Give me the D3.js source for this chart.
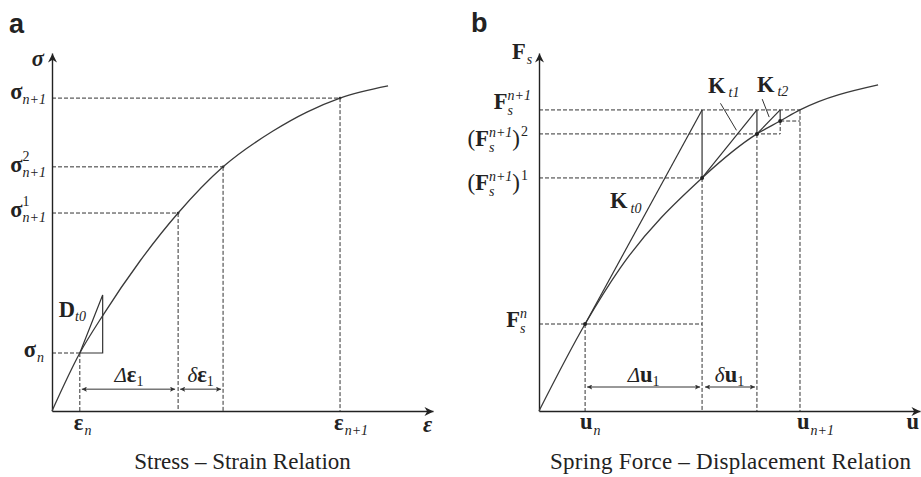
<!DOCTYPE html>
<html>
<head>
<meta charset="utf-8">
<script src="https://cdn.jsdelivr.net/npm/d3@7"></script>
<style>
  html, body { margin: 0; padding: 0; background: #fff; }
  svg { display: block; }
  text { fill: #222; }
  .b   { font: bold 22.5px 'Liberation Serif', 'Times New Roman', serif; }
  .bi  { font: bold italic 22.5px 'Liberation Serif', 'Times New Roman', serif; }
  .gi  { font: italic 21px 'Liberation Serif', 'Times New Roman', serif; }
  .p   { font: 23px 'Liberation Serif', 'Times New Roman', serif; }
  .i13 { font: italic 14px 'Liberation Serif', 'Times New Roman', serif; }
  .r13 { font: 14px 'Liberation Serif', 'Times New Roman', serif; }
  .title { font: 23px 'Liberation Serif', 'Times New Roman', serif; }
  .panel { font: bold 27px 'Liberation Sans', Arial, sans-serif; }
</style>
</head>
<body>
<svg id="chart" width="921" height="477"></svg>
<script>
// ---------- Panel a: stress–strain curve (normalised 0–100 units) ----------
const strainA = [0, 7.3, 13.4, 23.1, 33.1, 44.9, 58.0, 66.9, 75.6, 88.2];
const stressA = [0, 16.2, 26.8, 41.9, 55.3, 68.2, 78.2, 83.5, 87.4, 90.8];
// States on the curve: n, iteration 1, iteration 2, n+1
const stateStrainA = [7.3, 33.1, 44.9, 75.6];
const stateStressA = [16.2, 55.3, 68.2, 87.4];
// Initial tangent triangle D_t0 (run, rise)
const tangentA = [6.0, 16.2];
// Height of the increment dimension arrows
const dimLevelA = 6.1;

// ---------- Panel b: spring force–displacement curve ----------
const dispB  = [0, 12.1, 21.3, 42.8, 57.2, 63.3, 68.5, 89.0];
const forceB = [0, 24.3, 39.9, 65.1, 77.4, 81.0, 84.1, 91.1];
// Newton iterates: u_n, after iteration 1, 2, 3
const iterDispB  = [12.1, 42.8, 57.2, 63.3];
const iterForceB = [24.3, 65.1, 77.4, 81.0];
// Converged state n+1
const targetB = [68.5, 84.1];
const dimLevelB = 6.7;

const svg = d3.select("#chart");

const xA = d3.scaleLinear().domain([0, 100]).range([52, 433]);
const yA = d3.scaleLinear().domain([0, 100]).range([411, 53]);
const xB = d3.scaleLinear().domain([0, 100]).range([539, 920]);
const yB = d3.scaleLinear().domain([0, 100]).range([411, 53]);

// ---------- markers ----------
const defs = svg.append("defs");
defs.append("marker")
  .attr("id", "axisHead").attr("viewBox", "0 0 10 10")
  .attr("refX", 10).attr("refY", 5)
  .attr("markerWidth", 11).attr("markerHeight", 9)
  .attr("markerUnits", "userSpaceOnUse").attr("orient", "auto")
  .append("path").attr("d", "M0,0 L10,5 L0,10 L3,5 Z").attr("fill", "#222");
defs.append("marker")
  .attr("id", "dimHead").attr("viewBox", "0 0 10 10")
  .attr("refX", 10).attr("refY", 5)
  .attr("markerWidth", 7).attr("markerHeight", 5)
  .attr("markerUnits", "userSpaceOnUse").attr("orient", "auto-start-reverse")
  .append("path").attr("d", "M0,0 L10,5 L0,10 L2,5 Z").attr("fill", "#333");

// ---------- helpers ----------
// Compose a math-like label from parts; a part is plain text or a
// stacked superscript/subscript pair placed after the previous glyph.
function symbol(g, x, y, parts, anchor) {
  const grp = g.append("g");
  let cx = 0;
  parts.forEach(p => {
    if (p.t !== undefined) {
      const t = grp.append("text").attr("class", p.c)
        .attr("x", cx + (p.dx || 0)).attr("y", p.dy || 0).text(p.t);
      cx += (p.dx || 0) + t.node().getComputedTextLength();
    } else {
      let w = 0;
      const x0 = cx + (p.dx || 0);
      if (p.sup) {
        const t = grp.append("text").attr("class", p.supC || "i13")
          .attr("x", x0).attr("y", p.supY !== undefined ? p.supY : -10).text(p.sup);
        w = Math.max(w, t.node().getComputedTextLength());
      }
      if (p.sub) {
        const t = grp.append("text").attr("class", p.subC || "i13")
          .attr("x", x0).attr("y", p.subY !== undefined ? p.subY : 5).text(p.sub);
        w = Math.max(w, t.node().getComputedTextLength());
      }
      cx = x0 + w + (p.after || 0);
    }
  });
  const shift = anchor === "end" ? -cx : anchor === "middle" ? -cx / 2 : 0;
  grp.attr("transform", `translate(${x + shift},${y})`);
  return grp;
}

function seg(g, x1, y1, x2, y2, cls) {
  const l = g.append("line").attr("x1", x1).attr("y1", y1).attr("x2", x2).attr("y2", y2);
  if (cls === "dash") l.attr("stroke", "#333").attr("stroke-width", 1).attr("stroke-dasharray", "4,2");
  else if (cls === "dim") l.attr("stroke", "#333").attr("stroke-width", 1)
    .attr("marker-start", "url(#dimHead)").attr("marker-end", "url(#dimHead)");
  else l.attr("stroke", "#333").attr("stroke-width", 1.2);
  return l;
}

function drawAxes(g, x, y) {
  const ax = g.append("g").attr("transform", `translate(0,${y(0)})`)
    .call(d3.axisBottom(x).tickValues([]).tickSizeOuter(0));
  const ay = g.append("g").attr("transform", `translate(${x(0)},0)`)
    .call(d3.axisLeft(y).tickValues([]).tickSizeOuter(0));
  [ax, ay].forEach(a => a.select(".domain")
    .attr("stroke", "#222").attr("stroke-width", 1.4)
    .attr("marker-end", "url(#axisHead)"));
}

// =================== Panel a ===================
const gA = svg.append("g");
// guide lines from the axes to each state
stateStrainA.forEach((e, i) => {
  const s = stateStressA[i];
  seg(gA, xA(0), yA(s), xA(e), yA(s), "dash");
  seg(gA, xA(e), yA(s), xA(e), yA(0), "dash");
});
drawAxes(gA, xA, yA);

const lineA = d3.line().x((d, i) => xA(strainA[i])).y(d => yA(d)).curve(d3.curveMonotoneX);
gA.append("path").datum(stressA).attr("d", lineA)
  .attr("fill", "none").attr("stroke", "#3a3a3a").attr("stroke-width", 1.3);

// tangent triangle
{
  const e0 = stateStrainA[0], s0 = stateStressA[0];
  const pts = [[e0, s0], [e0 + tangentA[0], s0], [e0 + tangentA[0], s0 + tangentA[1]], [e0, s0]];
  gA.append("path")
    .attr("d", d3.line().x(d => xA(d[0])).y(d => yA(d[1]))(pts))
    .attr("fill", "none").attr("stroke", "#333").attr("stroke-width", 1.2);
}
gA.selectAll("circle").data(stateStrainA.slice(1)).join("circle")
  .attr("cx", d => xA(d)).attr("cy", (d, i) => yA(stateStressA[i + 1]))
  .attr("r", 1.4).attr("fill", "#333");

// increment arrows
seg(gA, xA(stateStrainA[0]) + 2, yA(dimLevelA), xA(stateStrainA[1]) - 3, yA(dimLevelA), "dim");
seg(gA, xA(stateStrainA[1]) + 2, yA(dimLevelA), xA(stateStrainA[2]) - 2, yA(dimLevelA), "dim");

// labels – vertical axis
symbol(gA, xA(0) - 8, yA(100) + 13, [{ t: "σ", c: "bi" }], "end");
symbol(gA, xA(0) - 6, yA(stateStressA[3]) + 1, [{ t: "σ", c: "b" }, { sub: "n+1", subY: 5 }], "end");
symbol(gA, xA(0) - 6, yA(stateStressA[2]) + 5, [{ t: "σ", c: "b" }, { sup: "2", supC: "r13", supY: -11, sub: "n+1", subY: 5 }], "end");
symbol(gA, xA(0) - 6, yA(stateStressA[1]) + 4, [{ t: "σ", c: "b" }, { sup: "1", supC: "r13", supY: -11, sub: "n+1", subY: 5 }], "end");
symbol(gA, xA(0) - 8, yA(stateStressA[0]) + 4, [{ t: "σ", c: "b" }, { sub: "n", subY: 5, dx: 1 }], "end");
// labels – horizontal axis
symbol(gA, xA(stateStrainA[0]) - 6, yA(0) + 19, [{ t: "ε", c: "b" }, { sub: "n", subY: 5, dx: 1 }]);
symbol(gA, xA(stateStrainA[3]) - 6, yA(0) + 19, [{ t: "ε", c: "b" }, { sub: "n+1", subY: 5, dx: 1 }]);
symbol(gA, xA(100) - 10, yA(0) + 21, [{ t: "ε", c: "bi" }]);
// tangent and increment labels
symbol(gA, xA(stateStrainA[0]) - 21, yA(stateStressA[0]) - 36, [{ t: "D", c: "b" }, { sub: "t0", subY: 4 }]);
symbol(gA, (xA(stateStrainA[0]) + xA(stateStrainA[1])) / 2, yA(dimLevelA) - 7,
  [{ t: "Δ", c: "gi" }, { t: "ε", c: "b" }, { sub: "1", subC: "r13", subY: 4 }], "middle");
symbol(gA, (xA(stateStrainA[1]) + xA(stateStrainA[2])) / 2, yA(dimLevelA) - 7,
  [{ t: "δ", c: "gi" }, { t: "ε", c: "b" }, { sub: "1", subC: "r13", subY: 4 }], "middle");

gA.append("text").attr("class", "title").attr("x", 242.5).attr("y", 469)
  .attr("text-anchor", "middle").text("Stress – Strain Relation");
gA.append("text").attr("class", "panel").attr("x", 9).attr("y", 33).text("a");

// =================== Panel b ===================
const gB = svg.append("g");
const [uT, fT] = targetB;
// guide lines
seg(gB, xB(0), yB(iterForceB[0]), xB(iterDispB[1]), yB(iterForceB[0]), "dash");
seg(gB, xB(iterDispB[0]), yB(iterForceB[0]), xB(iterDispB[0]), yB(0), "dash");
seg(gB, xB(0), yB(iterForceB[1]), xB(iterDispB[1]), yB(iterForceB[1]), "dash");
seg(gB, xB(iterDispB[1]), yB(iterForceB[1]), xB(iterDispB[1]), yB(0), "dash");
seg(gB, xB(0), yB(iterForceB[2]), xB(iterDispB[3]), yB(iterForceB[2]), "dash");
seg(gB, xB(iterDispB[2]), yB(iterForceB[2]), xB(iterDispB[2]), yB(0), "dash");
seg(gB, xB(iterDispB[3]), yB(iterForceB[3]), xB(iterDispB[3]), yB(iterForceB[2]), "dash");
seg(gB, xB(iterDispB[3]), yB(iterForceB[3]), xB(uT), yB(iterForceB[3]), "dash");
seg(gB, xB(0), yB(fT), xB(uT), yB(fT), "dash");
seg(gB, xB(uT), yB(fT), xB(uT), yB(0), "dash");
drawAxes(gB, xB, yB);

const lineB = d3.line().x((d, i) => xB(dispB[i])).y(d => yB(d)).curve(d3.curveMonotoneX);
gB.append("path").datum(forceB).attr("d", lineB)
  .attr("fill", "none").attr("stroke", "#3a3a3a").attr("stroke-width", 1.3);

// tangent stiffness predictors and corrections
for (let k = 0; k < 3; k++) {
  seg(gB, xB(iterDispB[k]), yB(iterForceB[k]), xB(iterDispB[k + 1]), yB(fT), "solid");
  seg(gB, xB(iterDispB[k + 1]), yB(fT), xB(iterDispB[k + 1]), yB(iterForceB[k + 1]), "solid");
}
gB.selectAll("circle").data(iterDispB).join("circle")
  .attr("cx", d => xB(d)).attr("cy", (d, i) => yB(iterForceB[i]))
  .attr("r", 2).attr("fill", "#222");

// leader lines for K_t1 and K_t2
[1, 2].forEach(k => {
  const x0 = xB(iterDispB[k]), y0 = yB(iterForceB[k]);
  const x1 = xB(iterDispB[k + 1]), y1 = yB(fT);
  const f = 0.7;
  const ex = x0 + (x1 - x0) * f - 4, ey = y0 + (y1 - y0) * f;
  const dx = k === 1 ? -16 : -7, dy = k === 1 ? -27 : -18;
  seg(gB, ex + dx, ey + dy, ex, ey, "solid").attr("stroke-width", 1);
});

// increment arrows
seg(gB, xB(iterDispB[0]) + 2, yB(dimLevelB), xB(iterDispB[1]) - 2, yB(dimLevelB), "dim");
seg(gB, xB(iterDispB[1]) + 3, yB(dimLevelB), xB(iterDispB[2]) - 2, yB(dimLevelB), "dim");

// labels – vertical axis
symbol(gB, xB(0) - 27, yB(100) + 6, [{ t: "F", c: "b" }, { sub: "s", subY: 5, dx: 1 }]);
symbol(gB, xB(0) - 8, yB(fT) - 1,
  [{ t: "F", c: "b" }, { sup: "n+1", supY: -9, sub: "s", subY: 6 }], "end");
symbol(gB, xB(0) - 11, yB(iterForceB[2]) + 12,
  [{ t: "(", c: "p" }, { t: "F", c: "b" }, { sup: "n+1", supY: -9, sub: "s", subY: 6 },
   { t: ")", c: "p" }, { sup: "2", supC: "r13", supY: -10, dx: 1 }], "end");
symbol(gB, xB(0) - 11, yB(iterForceB[1]) + 12,
  [{ t: "(", c: "p" }, { t: "F", c: "b" }, { sup: "n+1", supY: -9, sub: "s", subY: 6 },
   { t: ")", c: "p" }, { sup: "1", supC: "r13", supY: -10, dx: 1 }], "end");
symbol(gB, xB(0) - 12, yB(iterForceB[0]) + 3,
  [{ t: "F", c: "b" }, { sup: "n", supY: -9, sub: "s", subY: 6 }], "end");
// labels – horizontal axis
symbol(gB, xB(iterDispB[0]) - 5, yB(0) + 18, [{ t: "u", c: "b" }, { sub: "n", subY: 6, dx: 1 }]);
symbol(gB, xB(uT) - 3, yB(0) + 18, [{ t: "u", c: "b" }, { sub: "n+1", subY: 6, dx: 1 }]);
symbol(gB, xB(100) - 1, yB(0) + 18, [{ t: "u", c: "b" }], "end");
// stiffness labels
symbol(gB, xB(iterDispB[0]) + 25, yB(iterForceB[0]) - 116, [{ t: "K", c: "b" }, { sub: "t0", subY: 5, dx: 3 }]);
symbol(gB, xB(iterDispB[1]) + 6, yB(fT) - 17, [{ t: "K", c: "b" }, { sub: "t1", subY: 4, dx: 3 }]);
symbol(gB, xB(iterDispB[2]), yB(fT) - 18, [{ t: "K", c: "b" }, { sub: "t2", subY: 4, dx: 3 }]);
// increment labels
symbol(gB, (xB(iterDispB[0]) + xB(iterDispB[1])) / 2, yB(dimLevelB) - 5,
  [{ t: "Δ", c: "gi" }, { t: "u", c: "b" }, { sub: "1", subC: "r13", subY: 4 }], "middle");
symbol(gB, (xB(iterDispB[1]) + xB(iterDispB[2])) / 2, yB(dimLevelB) - 5,
  [{ t: "δ", c: "gi" }, { t: "u", c: "b" }, { sub: "1", subC: "r13", subY: 4 }], "middle");

gB.append("text").attr("class", "title").attr("x", 730.5).attr("y", 469)
  .attr("text-anchor", "middle").attr("textLength", 361).attr("lengthAdjust", "spacing")
  .text("Spring Force – Displacement Relation");
gB.append("text").attr("class", "panel").attr("x", 471).attr("y", 32).text("b");
</script>
</body>
</html>
